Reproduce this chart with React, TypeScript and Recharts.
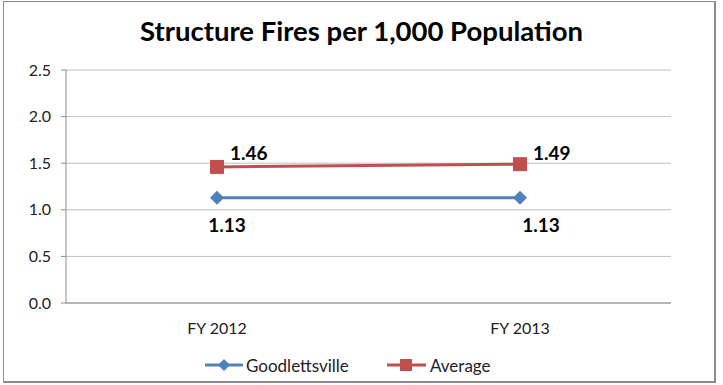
import React from 'react';
import { LineChart, Line, XAxis, YAxis, CartesianGrid, LabelList } from 'recharts';

const categories = ['FY 2012', 'FY 2013'];
const goodlettsville = [1.13, 1.13];
const average = [1.46, 1.49];
const yTicks = [0, 0.5, 1, 1.5, 2, 2.5];

const data = categories.map((name, i) => ({
  name,
  goodlettsville: goodlettsville[i],
  average: average[i],
}));

const BLUE = '#4f81bd';
const RED = '#c0504d';
const FONT = 'Lato, "Open Sans", sans-serif';

const DiamondDot = (props: any) => {
  const { cx, cy, index } = props;
  if (cx == null || cy == null) return null;
  const r = 7;
  return <path key={`d-${index}`} d={`M${cx},${cy - r}L${cx + r},${cy}L${cx},${cy + r}L${cx - r},${cy}Z`} fill={BLUE} />;
};

const SquareDot = (props: any) => {
  const { cx, cy, index } = props;
  if (cx == null || cy == null) return null;
  const s = 7;
  return <rect key={`s-${index}`} x={cx - s} y={cy - s} width={s * 2} height={s * 2} fill={RED} />;
};

// labels below the blue points, above-right of the red ones
const blueLabel = (props: any) => {
  const { x, y, value, index } = props;
  const dx = index === 0 ? 10 : 21;
  return (
    <text x={x + dx} y={y + 34} textAnchor="middle" fontFamily={FONT} fontWeight="bold" fontSize={19} fill="#000">
      {value.toFixed(2)}
    </text>
  );
};

const redLabel = (props: any) => {
  const { x, y, value, index } = props;
  const dy = index === 0 ? -7 : -4;
  return (
    <text x={x + 13} y={y + dy} textAnchor="start" fontFamily={FONT} fontWeight="bold" fontSize={19} fill="#000">
      {value.toFixed(2)}
    </text>
  );
};

export default function App() {
  return (
    <div style={{ position: 'absolute', left: 0, top: 0, width: 723, height: 385, background: '#fff', fontFamily: FONT }}>
      <div style={{ position: 'absolute', left: 3, top: 1, width: 713, height: 382, border: '1px solid #8c8c8c', borderRightWidth: 2, borderBottomWidth: 2, boxSizing: 'border-box' }} />
      <div style={{ position: 'absolute', left: 0, width: 723, top: 14, textAlign: 'center', fontSize: 27.5, fontWeight: 'bold', color: '#000' }}>
        Structure Fires per 1,000 Population
      </div>
      <LineChart width={723} height={385} data={data} margin={{ top: 70, right: 52, left: 0, bottom: 52 }} style={{ position: 'absolute', left: 0, top: 0 }}>
        <CartesianGrid vertical={false} stroke="#bfbfbf" />
        <XAxis
          dataKey="name"
          padding={{ left: 151, right: 151 }}
          axisLine={{ stroke: '#8c8c8c' }}
          tickLine={false}
          tick={{ fill: '#222', fontSize: 16, fontFamily: FONT }}
          tickMargin={14}
          height={30}
        />
        <YAxis
          domain={[0, 2.5]}
          ticks={yTicks}
          width={66}
          axisLine={{ stroke: '#8c8c8c' }}
          tickLine={{ stroke: '#8c8c8c' }}
          tickSize={5}
          tickMargin={10}
          tickFormatter={(v: number) => v.toFixed(1)}
          tick={{ fill: '#222', fontSize: 16, fontFamily: FONT }}
        />
        <Line dataKey="goodlettsville" stroke={BLUE} strokeWidth={3} dot={DiamondDot} activeDot={false} isAnimationActive={false}>
          <LabelList dataKey="goodlettsville" content={blueLabel} />
        </Line>
        <Line dataKey="average" stroke={RED} strokeWidth={3} dot={SquareDot} activeDot={false} isAnimationActive={false}>
          <LabelList dataKey="average" content={redLabel} />
        </Line>
      </LineChart>
      <div style={{ position: 'absolute', top: 353, left: 205, display: 'flex', alignItems: 'center', fontSize: 17, color: '#222', height: 24 }}>
        <svg width={38} height={14}>
          <line x1={0} y1={7} x2={38} y2={7} stroke={BLUE} strokeWidth={3} />
          <path d="M19,1L25,7L19,13L13,7Z" fill={BLUE} />
        </svg>
        <span style={{ marginLeft: 3, width: 141 }}>Goodlettsville</span>
        <svg width={39} height={14}>
          <line x1={0} y1={7} x2={39} y2={7} stroke={RED} strokeWidth={3} />
          <rect x={13} y={1} width={12} height={12} fill={RED} />
        </svg>
        <span style={{ marginLeft: 4 }}>Average</span>
      </div>
    </div>
  );
}
